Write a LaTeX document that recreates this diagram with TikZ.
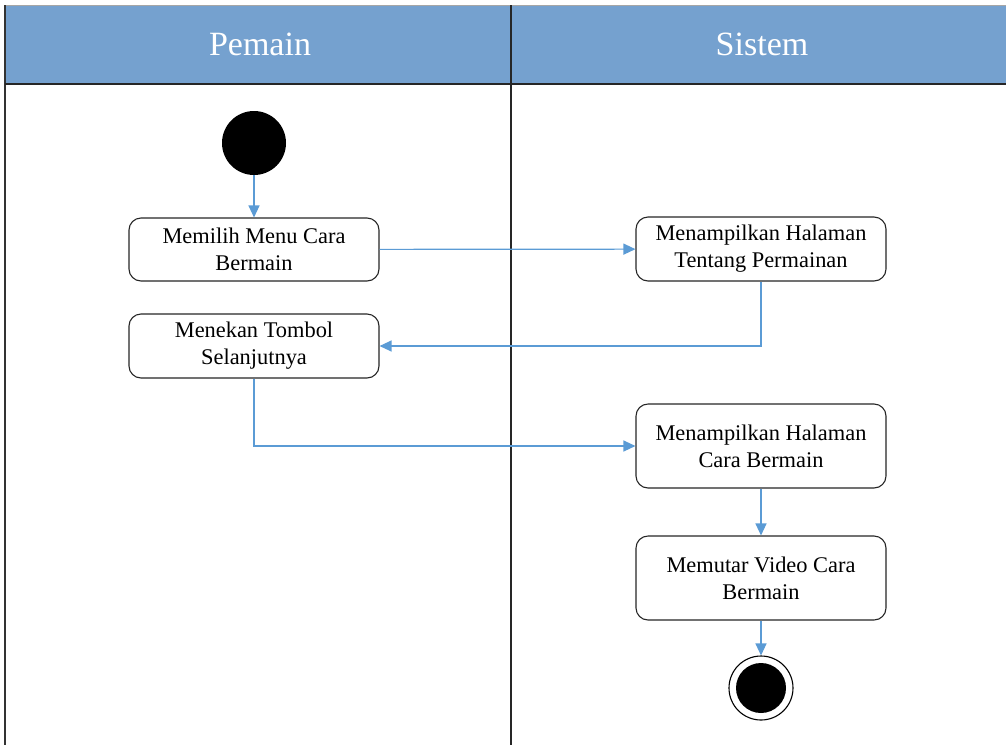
\documentclass[tikz,border=0pt]{standalone}
\usepackage{fontspec}
\setmainfont{Liberation Serif}
\usetikzlibrary{arrows.meta}
\definecolor{lanefill}{HTML}{75A1CF}
\definecolor{flowblue}{HTML}{5B9BD5}
\begin{document}
\begin{tikzpicture}[x=1pt,y=-1pt,
  action/.style={draw=black!85, line width=1.1pt, rounded corners=12pt, fill=white,
    minimum width=250pt, minimum height=64pt, align=center, inner sep=0pt,
    font=\fontsize{22.4}{27}\selectfont},
  lanetitle/.style={text=white, font=\fontsize{34}{38}\selectfont, inner sep=0pt},
  flow/.style={draw=flowblue, line width=1.2pt, -{Triangle[length=12pt,width=11pt]}},
  startdot/.style={circle, fill=black, minimum size=64pt, inner sep=0pt},
  enddot/.style={circle, draw=black, line width=1.1pt, fill=white, minimum size=64pt, inner sep=0pt,
    path picture={\fill[black] (path picture bounding box.center) circle (25pt);}}]
\useasboundingbox (0,0) rectangle (1006,745);

% swimlane header and borders
\fill[lanefill] (5,5) rectangle (1006,84);
\draw[gray!70, line width=1pt] (5,5) -- (1006,5);
\draw[black!80, line width=1.1pt] (5,5) -- (5,745);
\draw[black!85, line width=1.5pt] (511,5) -- (511,745);
\draw[black!85, line width=1.8pt] (5,84) -- (1006,84);
\node[lanetitle] (pemain) at (260,44) {Pemain};
\node[lanetitle] (sistem) at (762,44) {Sistem};

% activity nodes
\node[startdot] (start) at (254,143) {};
\node[action, minimum height=63pt] (memilih) at (254,249.5) {Memilih Menu Cara\\Bermain};
\node[action] (menekan) at (254,346) {Menekan Tombol\\Selanjutnya};
\node[action] (tentang) at (761,249) {Menampilkan Halaman\\Tentang Permainan};
\node[action, minimum height=84pt] (carabermain) at (761,446) {Menampilkan Halaman\\Cara Bermain};
\node[action, minimum height=84pt] (video) at (761,578) {Memutar Video Cara\\Bermain};
\node[enddot] (finish) at (761,688) {};

% control flow
\draw[flow] (start) -- (memilih);
\draw[flow] (memilih) -- (tentang);
\draw[flow] (tentang.south) |- (menekan.east);
\draw[flow] (menekan.south) |- (carabermain.west);
\draw[flow] (carabermain) -- (video);
\draw[flow] (video) -- (finish);
\end{tikzpicture}
\end{document}
